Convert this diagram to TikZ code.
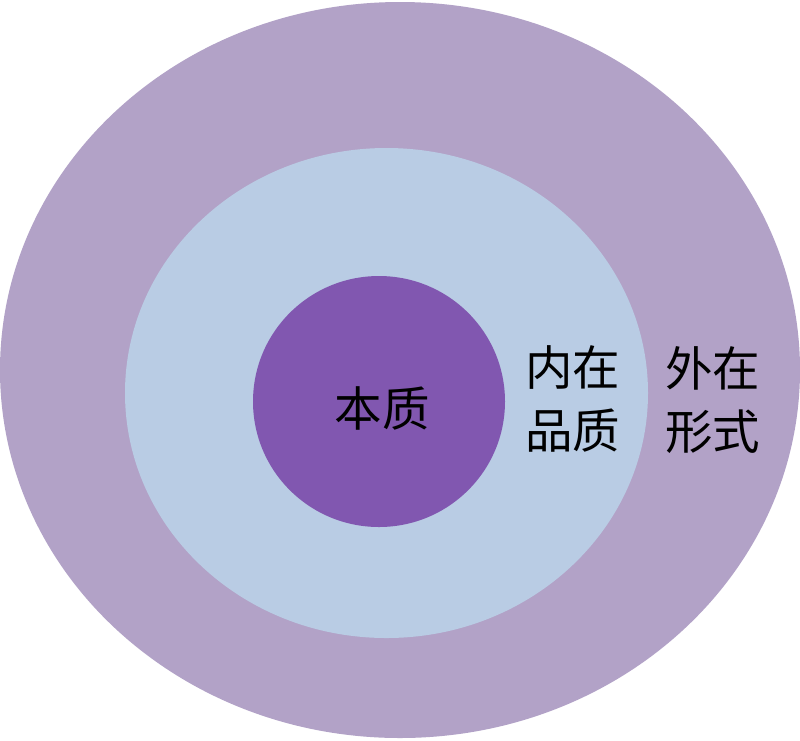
\documentclass[tikz,border=0pt]{standalone}
\usepackage{fontspec}
\newfontfamily\cjk{Noto Sans CJK SC}
\definecolor{outercol}{HTML}{B2A2C7}
\definecolor{midcol}{HTML}{B9CCE4}
\definecolor{corecol}{HTML}{8157B0}
\tikzset{
  lbl/.style={inner sep=0pt, align=center, text=black, font=\cjk\fontsize{47.5}{63}\selectfont}
}
\begin{document}
\begin{tikzpicture}[x=1pt,y=-1pt]
\useasboundingbox (0,0) rectangle (800,740);
\fill[white] (0,0) rectangle (800,740);
\fill[outercol] (400,370) ellipse [x radius=400, y radius=368];
\fill[midcol] (386.5,393) ellipse [x radius=261.5, y radius=245];
\fill[corecol] (379,401.5) ellipse [x radius=126, y radius=125.5];
\node[lbl] (core) at (382,408) {本质};
\node[lbl] (inner) at (572.5,398.5) {内在\\品质};
\node[lbl] (outer) at (712.5,400) {外在\\形式};
\end{tikzpicture}
\end{document}
